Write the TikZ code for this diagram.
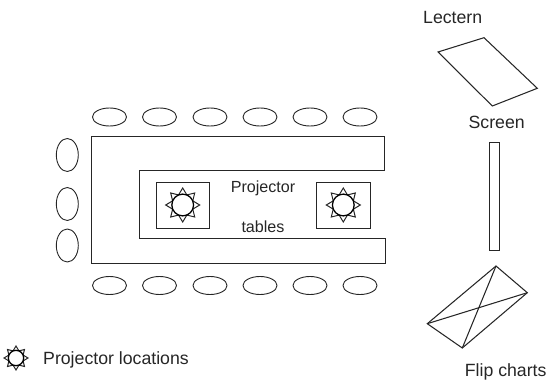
\documentclass[tikz,border=0pt]{standalone}
\usepackage{fontspec}
\setmainfont{Liberation Sans}
\usetikzlibrary{shapes.geometric}
\tikzset{
  line/.style={draw=black!85,line width=1.05pt,line join=miter},
  seat/.style={ellipse,draw=black!85,line width=0.9pt,minimum width=34pt,minimum height=18pt,inner sep=0pt},
  sideseat/.style={ellipse,draw=black!85,line width=0.9pt,minimum width=22pt,minimum height=33pt,inner sep=0pt},
  lab/.style={font=\fontsize{17.7}{20}\selectfont,text=black!85,inner sep=0pt},
  tablab/.style={font=\fontsize{16.1}{19}\selectfont,text=black!85,inner sep=0pt},
  pics/sunmark/.style={code={
    \draw[draw=black!85,line width=1pt,miter limit=10] (0:#1)
      \foreach \k in {1,...,15}{ -- ({\k*22.5}:{mod(\k,2)==0 ? #1 : 0.64*#1}) } -- cycle;
    \draw[draw=black,line width=1.3pt] (0,0) circle ({0.64*#1});
  }}
}
\begin{document}
\begin{tikzpicture}[x=1pt,y=-1pt]
\useasboundingbox (0,0) rectangle (547,382);
% table
\draw[line] (384.5,136.5) -- (91.5,136.5) -- (91.5,263.5) -- (385.5,263.5) -- (385.5,238.5) -- (139.5,238.5) -- (139.5,170.5) -- (384.5,170.5) -- cycle;
% seats
\foreach \n/\x in {1/109.5,2/159.5,3/210,4/260,5/310,6/360}{
  \node[seat] (t\n) at (\x,117) {};
  \node[seat] (b\n) at (\x,285.5) {};
}
\node[sideseat] (l1) at (67.3,155) {};
\node[sideseat] (l2) at (67.3,204) {};
\node[sideseat] (l3) at (67.3,245.5) {};
% projector tables
\draw[line] (156.5,182.5) rectangle (209.5,228.5);
\draw[line] (316.5,182.5) rectangle (370.5,228.5);
\pic at (182.7,205) {sunmark=17};
\pic at (343.3,205) {sunmark=17};
\node[tablab] (pr) at (263,188.5) {Projector};
\node[tablab] (tb) at (263,227) {tables};
% lectern
\draw[line] (438,52) -- (484,37.7) -- (537.3,88.3) -- (492.3,106) -- cycle;
\node[lab] (lec) at (452.7,18) {Lectern};
% screen
\node[lab] (scr) at (496.7,122) {Screen};
\draw[line] (489.5,142.5) rectangle (499.5,250.5);
% flip charts
\draw[line] (496,266) -- (527.3,292.7) -- (462.3,348) -- (427.3,323.7) -- cycle;
\draw[line] (496,266) -- (462.3,348);
\draw[line] (527.3,292.7) -- (427.3,323.7);
\node[lab] (fl) at (505.7,371.5) {Flip charts};
% legend
\pic at (16,358) {sunmark=12};
\node[lab,anchor=west] (lg) at (43,359.5) {Projector locations};
\end{tikzpicture}
\end{document}
